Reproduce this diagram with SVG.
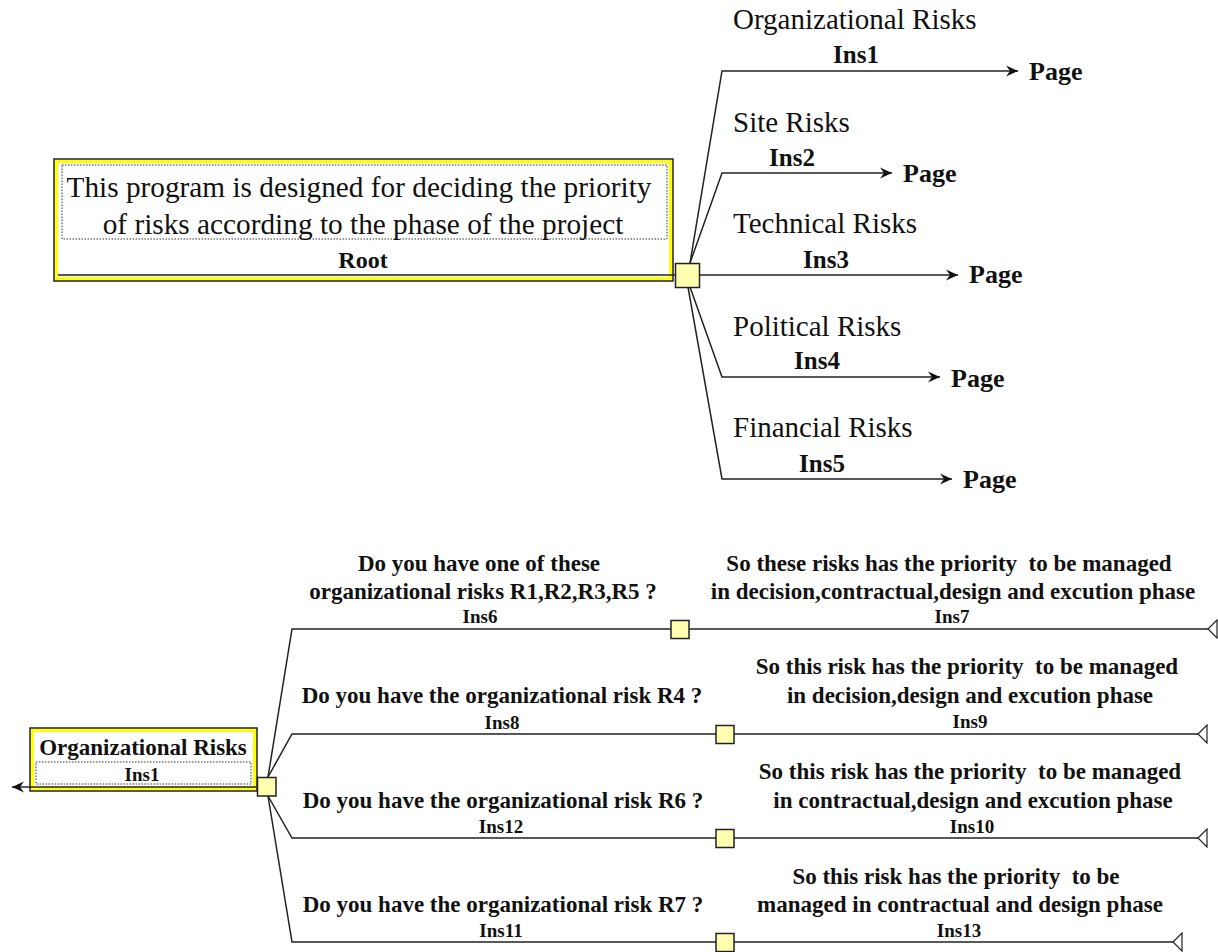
<svg xmlns="http://www.w3.org/2000/svg" width="1218" height="952" viewBox="0 0 1218 952">
<style>
text{white-space:pre}
.reg{font-family:"Liberation Serif","Times New Roman",serif;font-size:29px;fill:#111}
.root{font-family:"Liberation Serif","Times New Roman",serif;font-size:29.3px;fill:#111;text-anchor:middle}
.b{font-family:"Liberation Serif","Times New Roman",serif;font-weight:bold;fill:#111}
.q{font-size:23px;text-anchor:middle}
.ins{font-size:19px;text-anchor:middle}
.tins{font-size:25px;text-anchor:middle}
.page{font-size:26px}
.ln{stroke:#222;stroke-width:1.5;fill:none}
.sq{fill:#ffffb0;stroke:#222;stroke-width:1.5}
.outer{fill:#fff;stroke:#222;stroke-width:1.5}
.yel{fill:none;stroke:#ffff00;stroke-width:3}
.dot{fill:none;stroke:#333;stroke-width:1;stroke-dasharray:1.5 1.5}
</style>
<defs>
<marker id="stealth" viewBox="0 0 12 12" refX="12" refY="6" markerWidth="12" markerHeight="12" markerUnits="userSpaceOnUse" orient="auto">
<path d="M0,0.5 L12,6 L0,11.5 L4,6 Z" fill="#111"/>
</marker>
<marker id="opentri" viewBox="-1 -1 12 20" refX="0" refY="9" markerWidth="12" markerHeight="20" markerUnits="userSpaceOnUse" orient="auto">
<path d="M0,9 L9,0 L9,18 Z" fill="#fff" stroke="#222" stroke-width="1.2"/>
</marker>
</defs>
<rect width="1218" height="952" fill="#fff"/>

<g id="connectors">
<path class="ln" d="M690,263 L722,71 L1018,71" marker-end="url(#stealth)"/>
<path class="ln" d="M690,263 L722,173 L892,173" marker-end="url(#stealth)"/>
<path class="ln" d="M673,275 L958,275" marker-end="url(#stealth)"/>
<path class="ln" d="M690,287 L722,377 L940,377" marker-end="url(#stealth)"/>
<path class="ln" d="M688,287 L722,479 L952,479" marker-end="url(#stealth)"/>
<path class="ln" d="M30,787 L12,787" marker-end="url(#stealth)"/>
<path class="ln" d="M257,787 L266,787"/>
<path class="ln" d="M268,777 L292,629 L1208,629" marker-end="url(#opentri)"/>
<path class="ln" d="M268,777 L292,734 L1198,734" marker-end="url(#opentri)"/>
<path class="ln" d="M268,796 L292,838 L1198,838" marker-end="url(#opentri)"/>
<path class="ln" d="M268,796 L292,942 L1173,942" marker-end="url(#opentri)"/>
</g>

<g id="root">
<rect class="outer" x="54" y="159" width="619" height="122"/>
<rect class="yel" x="56.5" y="161.5" width="614" height="117"/>
<rect class="dot" x="62" y="165" width="605" height="74"/>
<line class="ln" x1="58" y1="275" x2="673" y2="275"/>
<text class="root" x="359" y="197">This program is designed for deciding the priority</text>
<text class="root" x="363" y="234">of risks according to the phase of the project</text>
<text class="b" x="363" y="268" font-size="24" text-anchor="middle">Root</text>
</g>
<g id="root-hub"><rect class="sq" x="675.5" y="263.5" width="24" height="24"/></g>

<g id="ins1-top">
<text class="reg" x="733" y="29">Organizational Risks</text>
<text class="b tins" x="856" y="63">Ins1</text>
<text class="b page" x="1029" y="80">Page</text>
</g>
<g id="ins2-top">
<text class="reg" x="733" y="132">Site Risks</text>
<text class="b tins" x="792" y="166">Ins2</text>
<text class="b page" x="903" y="182">Page</text>
</g>
<g id="ins3-top">
<text class="reg" x="733" y="233">Technical Risks</text>
<text class="b tins" x="826" y="268">Ins3</text>
<text class="b page" x="969" y="283">Page</text>
</g>
<g id="ins4-top">
<text class="reg" x="733" y="336">Political Risks</text>
<text class="b tins" x="817" y="369">Ins4</text>
<text class="b page" x="951" y="387">Page</text>
</g>
<g id="ins5-top">
<text class="reg" x="733" y="437">Financial Risks</text>
<text class="b tins" x="822" y="472">Ins5</text>
<text class="b page" x="963" y="488">Page</text>
</g>

<g id="org-risks">
<rect class="outer" x="30" y="728" width="227" height="63"/>
<rect class="yel" x="32.5" y="730.5" width="222" height="58"/>
<rect class="dot" x="36" y="762" width="215" height="22"/>
<line class="ln" x1="30" y1="787" x2="257" y2="787"/>
<text class="b" x="143" y="755" font-size="23" text-anchor="middle">Organizational Risks</text>
<text class="b ins" x="142" y="781">Ins1</text>
</g>
<g id="org-hub"><rect class="sq" x="257.5" y="777.5" width="18.5" height="18.5"/></g>

<g id="ins6">
<text class="b q" x="479" y="571">Do you have one of these</text>
<text class="b q" x="483" y="599">organizational risks R1,R2,R3,R5 ?</text>
<text class="b ins" x="480" y="623">Ins6</text>
<rect class="sq" x="671" y="620.5" width="18" height="18"/>
</g>
<g id="ins7">
<text class="b q" x="949" y="571">So these risks has the priority  to be managed</text>
<text class="b q" x="953" y="599">in decision,contractual,design and excution phase</text>
<text class="b ins" x="952" y="623">Ins7</text>
</g>
<g id="ins8">
<text class="b q" x="502" y="703">Do you have the organizational risk R4 ?</text>
<text class="b ins" x="502" y="729">Ins8</text>
<rect class="sq" x="716" y="725.5" width="18" height="18"/>
</g>
<g id="ins9">
<text class="b q" x="967" y="674">So this risk has the priority  to be managed</text>
<text class="b q" x="970" y="703">in decision,design and excution phase</text>
<text class="b ins" x="970" y="728">Ins9</text>
</g>
<g id="ins12">
<text class="b q" x="503" y="808">Do you have the organizational risk R6 ?</text>
<text class="b ins" x="501" y="833">Ins12</text>
<rect class="sq" x="716" y="829.5" width="18" height="18"/>
</g>
<g id="ins10">
<text class="b q" x="970" y="779">So this risk has the priority  to be managed</text>
<text class="b q" x="973" y="808">in contractual,design and excution phase</text>
<text class="b ins" x="972" y="833">Ins10</text>
</g>
<g id="ins11">
<text class="b q" x="503" y="912">Do you have the organizational risk R7 ?</text>
<text class="b ins" x="501" y="937">Ins11</text>
<rect class="sq" x="716" y="933.5" width="18" height="18"/>
</g>
<g id="ins13">
<text class="b q" x="956" y="884">So this risk has the priority  to be</text>
<text class="b q" x="960" y="912">managed in contractual and design phase</text>
<text class="b ins" x="959" y="937">Ins13</text>
</g>
</svg>
